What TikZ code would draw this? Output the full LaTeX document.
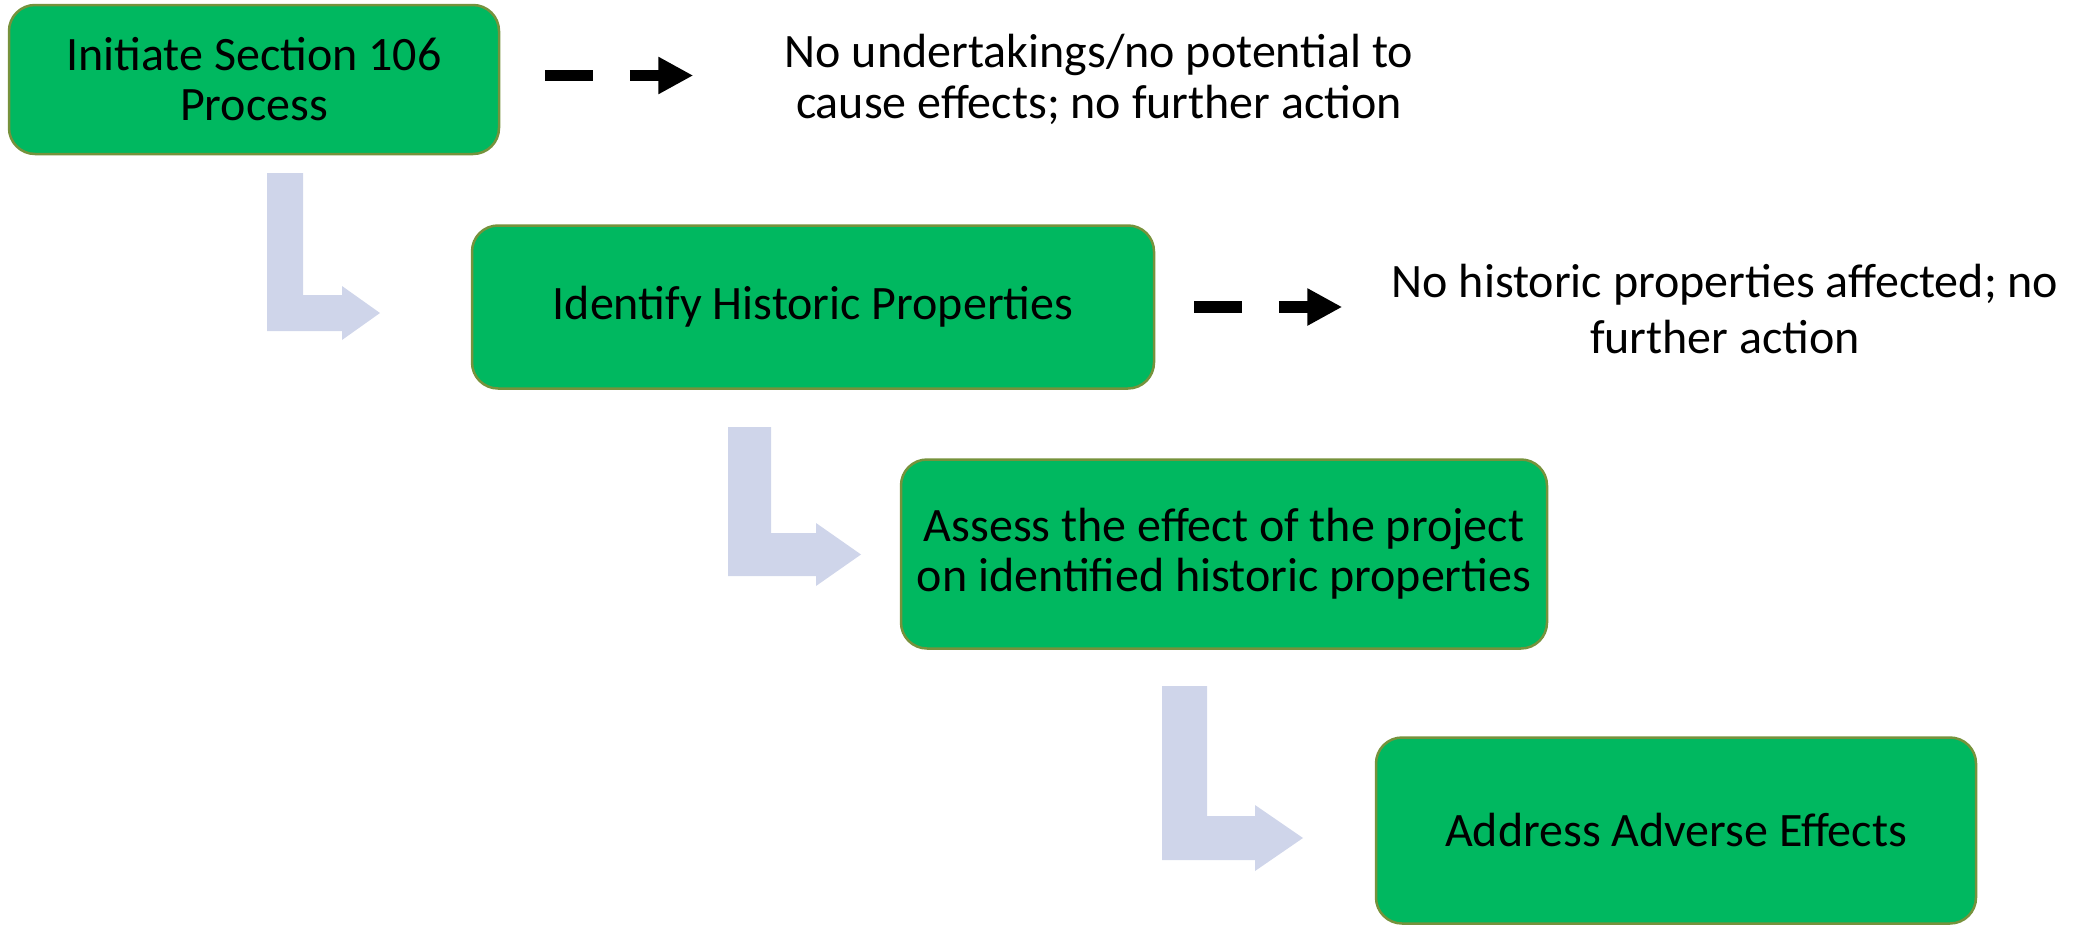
\documentclass[tikz,border=0pt]{standalone}
\usepackage{fontspec}
\setmainfont{Carlito}
\usetikzlibrary{arrows.meta}
\definecolor{boxgreen}{RGB}{0,184,96}
\definecolor{boxedge}{RGB}{118,146,60}
\definecolor{bendfill}{RGB}{207,213,234}
% L-shaped block arrow: bar x-range, top y, horizontal bar y-range, head start x, tip x, head overhang
\newcommand\lbend[8]{%
  \fill[bendfill] (#1,#3) -- (#2,#3) -- (#2,#4) -- (#6,#4) -- (#6,#4-#8)
    -- (#7,{(#4+#5)/2}) -- (#6,#5+#8) -- (#6,#5) -- (#1,#5) -- cycle;}
\begin{document}
\begin{tikzpicture}[x=1pt,y=-1pt,
  stepbox/.style={draw=boxedge, line width=2.5pt, fill=boxgreen,
    rounded corners=26pt, align=center, inner sep=0pt,
    font=\fontsize{48}{50}\selectfont},
  outcome/.style={align=center, inner sep=0pt},
  dasharrow/.style={line width=11.5pt, dash pattern=on 48pt off 36.5pt,
    -{Triangle[length=35pt,width=35pt]}}]
\useasboundingbox (0,0) rectangle (2075,926);

% process steps
\node[stepbox, minimum width=490pt, minimum height=149pt] (b1) at (254,79.5)
  {Initiate Section 106\\Process};
\node[stepbox, minimum width=682pt, minimum height=163pt] (b2) at (813,307)
  {Identify Historic Properties};
\node[stepbox, minimum width=646pt, minimum height=189pt] (b3) at (1224,554)
  {Assess the effect of the project\\on identified historic properties};
\node[stepbox, minimum width=600pt, minimum height=186pt] (b4) at (1676,830.5)
  {Address Adverse Effects};

% early exits
\node[outcome, font=\fontsize{48}{51}\selectfont] (t1) at (1099,79)
  {No undertakings/no potential to\\cause effects; no further action};
\node[outcome, font=\fontsize{48}{56}\selectfont] (t2) at (1725,309)
  {No historic properties affected; no\\further action};

\draw[dasharrow] ([xshift=45pt,yshift=4pt]b1.east) -- ++(148,0);
\draw[dasharrow] ([xshift=39pt]b2.east) -- ++(148,0);

% step-down arrows
\lbend{267}{303}{173}{295}{331}{342}{380}{9}
\lbend{728}{771}{427}{533}{576}{816}{861}{10}
\lbend{1162}{1207}{686}{816}{860}{1255}{1303}{11}
\end{tikzpicture}
\end{document}
